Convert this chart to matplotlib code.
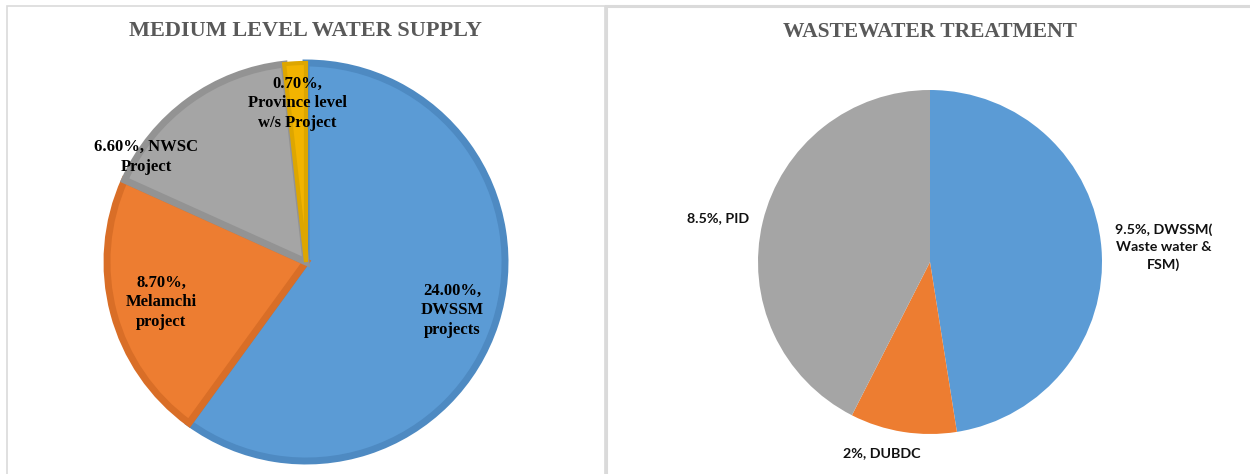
import matplotlib.pyplot as plt
from matplotlib.patches import Rectangle

# medium level water supply
ws_values = [24.00, 8.70, 6.60, 0.70]
ws_labels = ["24.00%,\nDWSSM\nprojects", "8.70%,\nMelamchi\nproject",
             "6.60%, NWSC\nProject", "0.70%,\nProvince level\nw/s Project"]
ws_colors = ["#5B9BD5", "#ED7D31", "#A5A5A5", "#F2B400"]
ws_edges = ["#4E8AC2", "#D96E27", "#939393", "#DDA600"]

# wastewater treatment
ww_values = [9.5, 2.0, 8.5]
ww_labels = ["9.5%, DWSSM(\nWaste water &\nFSM)", "2%, DUBDC", "8.5%, PID"]
ww_colors = ["#5B9BD5", "#ED7D31", "#A5A5A5"]

W, H = 1250, 474
fig = plt.figure(figsize=(12.5, 4.74), dpi=100)
ax = fig.add_axes([0, 0, 1, 1])


def py(y):
    return H - y


# panel frames
border = "#DADADA"
ax.add_patch(Rectangle((7, py(480)), 598, 480 - 6, fill=False, edgecolor=border, lw=1.2))
ax.add_patch(Rectangle((605.5, py(480)), 700, 480 - 6, fill=False, edgecolor=border, lw=2.2))

serif = "Liberation Serif"

# left pie, with a darker inset rim on each slice
wedges, _ = ax.pie(ws_values, colors=ws_colors, startangle=90, counterclock=False,
                   center=(306, py(262)), radius=199, frame=True,
                   explode=[0.012, 0, 0, 0],
                   wedgeprops=dict(linewidth=0))
for w, ec in zip(wedges, ws_edges):
    w.set_edgecolor(ec)
    w.set_linewidth(5)
    w.set_clip_path(w)
wedges[3].set_linewidth(3)

ws_pos = [(452, 310), (161, 302), (146, 157), (297, 103)]
for (x, y), txt in zip(ws_pos, ws_labels):
    ax.text(x, py(y), txt, ha="center", va="center", family=serif,
            fontweight="bold", fontsize=12, color="black", linespacing=1.3)

ax.text(305, py(31), "MEDIUM LEVEL WATER SUPPLY", ha="center", va="center",
        family=serif, fontweight="bold", fontsize=16, color="#595959")

# right pie
wedges2, _ = ax.pie(ww_values, colors=ww_colors, startangle=90, counterclock=False,
                    center=(930, py(262)), radius=172, frame=True,
                    wedgeprops=dict(linewidth=0))

ww_pos = [(1164, 247), (882, 453), (718, 218)]
for (x, y), txt in zip(ww_pos, ww_labels):
    ax.text(x, py(y), txt, ha="center", va="center", family="Lato",
            fontweight="bold", fontsize=10.3, color="#111111", linespacing=1.5)

ax.text(930, py(32), "WASTEWATER TREATMENT", ha="center", va="center",
        family=serif, fontweight="bold", fontsize=15.5, color="#595959")

ax.set_xlim(0, W)
ax.set_ylim(0, H)
ax.set_aspect("auto")
ax.axis("off")

fig.savefig("out.png", dpi=100)
